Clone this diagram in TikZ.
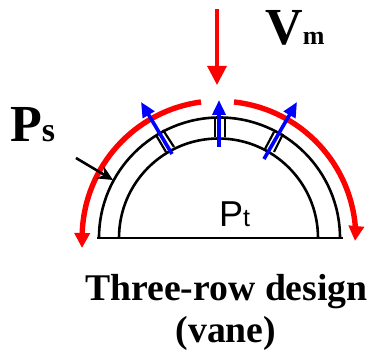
\documentclass[tikz,border=0pt]{standalone}
\usepackage{fontspec}
\setmainfont{Liberation Serif}
\newfontfamily\arialfont{Liberation Sans}
\usetikzlibrary{arrows.meta}
\definecolor{vred}{RGB}{255,0,0}
\definecolor{vblue}{RGB}{0,0,255}
\tikzset{
  shell/.style={black,line width=2.6pt},
  vane/.style={black,line width=2.2pt},
  flowred/.style={vred,line width=5.4pt,-{Triangle[length=15pt,width=15pt]}},
  flowdown/.style={vred,line width=3.2pt,-{Triangle[length=19pt,width=19pt]}},
  flowblue/.style={vblue,line width=3.6pt,-{Triangle[length=15pt,width=13pt]}},
  pointer/.style={black,line width=2.6pt,-{Stealth[length=15pt,width=14pt]}},
  lab/.style={inner sep=0pt,anchor=base west},
  big/.style={lab,font=\bfseries\fontsize{52}{52}\selectfont},
  caption/.style={inner sep=0pt,anchor=base,font=\bfseries\fontsize{37.7}{44}\selectfont}
}
\begin{document}
\begin{tikzpicture}[x=1pt,y=-1pt]
\useasboundingbox (0,0) rectangle (373,358);
% coordinates
\coordinate (baseL) at (97,238);
\coordinate (baseR) at (343,238);
\coordinate (dTop) at (217,9);
\coordinate (dTip) at (217,85);
\coordinate (b1s) at (172,154);
\coordinate (b1e) at (141,102);
\coordinate (b2s) at (219,147);
\coordinate (b2e) at (219,100);
\coordinate (b3s) at (264,159);
\coordinate (b3e) at (297,102);
\coordinate (pS) at (76,158);
\coordinate (pE) at (113,180);
% shells
\draw[shell] (99,238) arc[start angle=180,end angle=360,radius=120.5];
\draw[shell] (119,238) arc[start angle=180,end angle=360,radius=99.5];
\draw[shell] (baseL) -- (baseR);
% vanes
\draw[vane] (215,117) -- (215,137);
\draw[vane] (225,117) -- (225,137);
\draw[vane] (156,135) -- (166,152);
\draw[vane] (163,130) -- (174,147);
\draw[vane] (274,132) -- (265,149);
\draw[vane] (283,134) -- (274,152);
% red flow
\draw[flowdown] (dTop) -- (dTip);
\draw[flowred] (201,102) arc[start angle=262.4,end angle=182,radius=137] -- (82,248);
\draw[flowred] (234,102) arc[start angle=276.3,end angle=358,radius=136.8] -- (355,241);
% blue flow
\draw[flowblue] (b1s) -- (b1e);
\draw[flowblue] (b2s) -- (b2e);
\draw[flowblue] (b3s) -- (b3e);
% pointer
\draw[pointer] (pS) -- (pE);
% labels
\node[big] (v) at (265,45) {V{\fontsize{26}{26}\selectfont m}};
\node[big] (p) at (10,142) {P{\fontsize{34}{34}\selectfont s}};
\node[lab,font=\arialfont\fontsize{36}{36}\selectfont] (pt) at (219,227) {P{\fontsize{25}{25}\selectfont t}};
\node[caption] (c1) at (226.5,301) {Three-row design};
\node[caption] (c2) at (226,343) {(vane)};
\end{tikzpicture}
\end{document}
